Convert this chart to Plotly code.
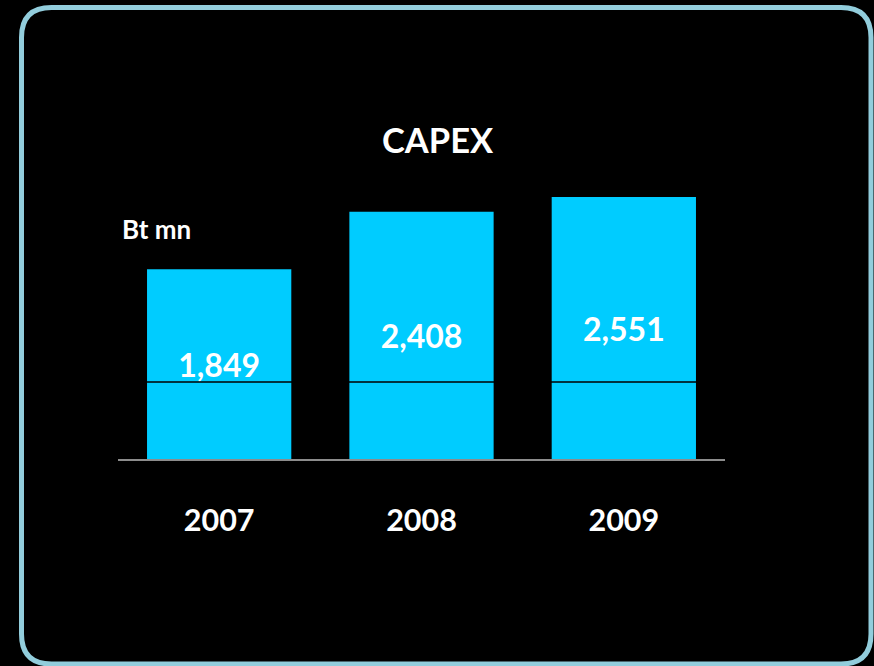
import plotly.graph_objects as go

# CAPEX by year, Bt mn
years = ["2007", "2008", "2009"]
capex = [1849, 2408, 2551]
value_labels = ["1,849", "2,408", "2,551"]
divider_level = 750

W, H = 874, 666
L, R, T, B = 118, 149, 150, 207
plot_w = W - L - R
plot_h = H - T - B


def px_x(x):
    return (x - L) / plot_w


def px_y(y):
    return (H - B - y) / plot_h


fig = go.Figure(
    go.Bar(
        x=years,
        y=capex,
        text=value_labels,
        textposition="inside",
        insidetextanchor="middle",
        textfont=dict(family="Lato", size=32, color="white", weight="bold"),
        marker=dict(color="#00CCFF", line=dict(width=0)),
        width=0.713,
        hoverinfo="skip",
    )
)

# rounded frame around the panel
x0, x1, y0, y1, r = 21.5, 871, 7.5, 664, 30
path = (
    f"M {px_x(x0 + r)},{px_y(y0)} L {px_x(x1 - r)},{px_y(y0)} "
    f"Q {px_x(x1)},{px_y(y0)} {px_x(x1)},{px_y(y0 + r)} "
    f"L {px_x(x1)},{px_y(y1 - r)} "
    f"Q {px_x(x1)},{px_y(y1)} {px_x(x1 - r)},{px_y(y1)} "
    f"L {px_x(x0 + r)},{px_y(y1)} "
    f"Q {px_x(x0)},{px_y(y1)} {px_x(x0)},{px_y(y1 - r)} "
    f"L {px_x(x0)},{px_y(y0 + r)} "
    f"Q {px_x(x0)},{px_y(y0)} {px_x(x0 + r)},{px_y(y0)} Z"
)
fig.add_shape(type="path", path=path, xref="paper", yref="paper",
              line=dict(color="#92CDDC", width=5), layer="below")

# thin divider across the bars
fig.add_shape(type="line", xref="paper", yref="y", x0=0, x1=1,
              y0=divider_level, y1=divider_level,
              line=dict(color="black", width=1.5), layer="above")

fig.add_annotation(text="<b>CAPEX</b>", xref="paper", yref="paper",
                   x=px_x(438), y=px_y(139), xanchor="center", yanchor="middle",
                   showarrow=False,
                   font=dict(family="Lato", size=34.5, color="white"))
fig.add_annotation(text="<b>Bt mn</b>", xref="paper", yref="paper",
                   x=px_x(120), y=px_y(229), xanchor="left", yanchor="middle",
                   showarrow=False,
                   font=dict(family="Lato", size=26, color="white"))

fig.update_layout(
    width=W, height=H,
    margin=dict(l=L, r=R, t=T, b=B),
    paper_bgcolor="black", plot_bgcolor="black",
    showlegend=False,
    xaxis=dict(
        range=[-0.5, 2.5], showgrid=False, showline=True,
        linecolor="#8c8c8c", linewidth=1.5, ticks="",
        ticklabelstandoff=34,
        tickfont=dict(family="Lato", size=30.5, color="white", weight="bold"),
    ),
    yaxis=dict(range=[0, 3010], showgrid=False, zeroline=False,
               showticklabels=False, ticks=""),
)

fig.write_html("out.html")
